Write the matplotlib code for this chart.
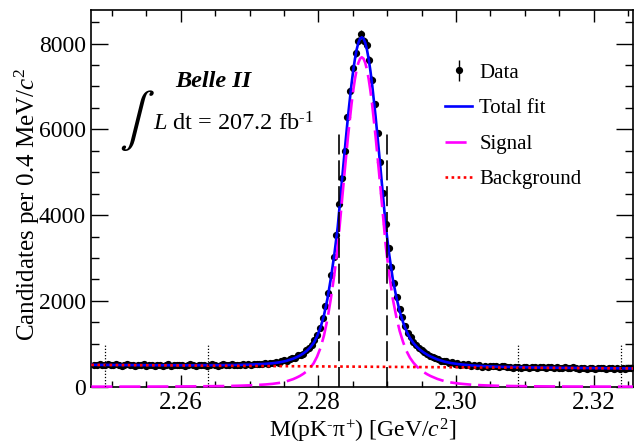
import matplotlib
matplotlib.use("Agg")
import matplotlib.pyplot as plt
import numpy as np
from matplotlib.ticker import MultipleLocator, FixedLocator, FixedFormatter

plt.rcParams['font.family'] = ['Liberation Serif', 'DejaVu Serif']
plt.rcParams['mathtext.fontset'] = 'custom'
plt.rcParams['mathtext.rm'] = 'Liberation Serif'
plt.rcParams['mathtext.it'] = 'Liberation Serif:italic'
plt.rcParams['mathtext.bf'] = 'Liberation Serif:bold'

# ---------------- data ----------------
bin_width = 0.0004          # GeV
first_bin_center = 2.2474   # GeV
data_counts = [
    515, 502, 521, 498, 511, 526, 509, 495, 518, 504,
    490, 512, 520, 497, 508, 485, 514, 501, 523, 494,
    506, 516, 488, 510, 499, 481, 507, 519, 492, 503,
    514, 496, 509, 487, 500, 521, 505, 493, 511, 498,
    517, 494, 508, 526, 503, 490, 512, 520, 497, 509,
    528, 495, 514, 503, 522, 511, 532, 497, 519, 530,
    537, 518, 545, 529, 556, 541, 572, 552, 590, 611,
    598, 640, 668, 661, 731, 749, 766, 852, 901, 975,
    1082, 1208, 1374, 1590, 1882, 2191, 2605, 3030, 3540, 4263,
    4868, 5504, 6279, 6899, 7426, 7775, 8063, 8230, 8063, 7960,
    7620, 7160, 6580, 5910, 5230, 4510, 3800, 3230, 2790, 2410,
    2095, 1820, 1615, 1420, 1262, 1148, 1041, 982, 901, 860,
    812, 770, 705, 700, 671, 651, 598, 604, 590, 548,
    566, 525, 544, 509, 531, 497, 518, 483, 505, 476,
    497, 470, 490, 462, 484, 479,
    478, 452, 471, 483, 455, 468, 447, 470, 462, 441,
    466, 459, 438, 462, 451, 433, 458, 452, 437, 463,
    449, 429, 455, 446, 432, 451, 443, 427, 449, 440,
    422, 447, 438, 424, 446, 433, 419, 441, 429, 445,
    418, 436, 427, 411, 440, 423, 434, 413, 431, 438,
]

# fit curves, tabulated versus offset from the fitted peak (MeV)
peak_mass = 2.2863
fit_offset_mev = [
    -39.3, -30, -25, -20, -18, -16, -14, -13, -12, -11,
    -10, -9.5, -9, -8.5, -8, -7.5, -7, -6.5, -6, -5.5,
    -5, -4.5, -4, -3.5, -3, -2.5, -2, -1.5, -1.25, -1,
    -0.75, -0.5, -0.25, 0,
    0.25, 0.5, 0.75, 1, 1.25, 1.5, 2, 2.5, 3, 3.5,
    4, 4.5, 5, 5.5, 6, 6.5, 7, 7.5, 8, 8.5,
    9, 9.5, 10, 11, 12, 13, 14, 16, 18, 20,
    25, 30, 39.4,
]
signal_fit = [
    1, 3, 7, 15, 22, 33, 52, 66, 88, 122,
    175, 210, 250, 300, 360, 440, 545, 700, 905, 1190,
    1570, 2050, 2600, 3250, 4130, 5000, 5840, 6580, 6900, 7170,
    7390, 7550, 7647, 7680,
    7647, 7550, 7390, 7170, 6900, 6580, 5840, 5000, 4130, 3250,
    2600, 2050, 1640, 1300, 1040, 830, 675, 560, 470, 400,
    340, 290, 248, 180, 130, 97, 75, 45, 30, 20,
    9, 4, 1,
]
total_fit = [
    509, 501, 500, 503, 507, 516, 533, 546, 567, 600,
    652, 686, 726, 775, 835, 914, 1019, 1173, 1378, 1662,
    2042, 2521, 3071, 3720, 4600, 5469, 6309, 7048, 7368, 7637,
    7857, 8017, 8114, 8146,
    8113, 8016, 7856, 7635, 7365, 7045, 6304, 5464, 4593, 3713,
    3062, 2512, 2101, 1761, 1500, 1290, 1134, 1019, 928, 857,
    797, 746, 704, 635, 584, 550, 527, 495, 477, 465,
    449, 439, 426,
]
background_mass = [2.2470, 2.3257]
background_fit = [508, 425]

signal_window = [2.2830, 2.2900]
sideband_edges = [2.2490, 2.2640, 2.3090, 2.3240]

x_ticks = [2.26, 2.28, 2.30, 2.32]
x_tick_labels = ['2.26', '2.28', '2.30', '2.32']
y_ticks = [0, 2000, 4000, 6000, 8000]
y_tick_labels = ['0', '2000', '4000', '6000', '8000']

# ---------------- plot ----------------
centers = first_bin_center + bin_width * np.arange(len(data_counts))
counts = np.array(data_counts, dtype=float)
errs = np.sqrt(counts)
fit_mass = peak_mass + np.array(fit_offset_mev) / 1000.0

fig = plt.figure(figsize=(6.4, 4.47), dpi=100)
ax = fig.add_axes([0.1427, 0.1349, 0.989 - 0.1427, 0.977 - 0.1349])

h_data = ax.errorbar(centers, counts, yerr=errs, fmt='o', color='black', ms=4.2,
                     elinewidth=1.0, capsize=0, zorder=2, label='Data')
h_tot, = ax.plot(fit_mass, total_fit, color='#0000ff', lw=1.9, zorder=3,
                 label='Total fit')
h_sig, = ax.plot(fit_mass, signal_fit, color='#ff00ff', lw=1.9, dashes=(8, 2.6),
                 zorder=4, clip_on=False, label='Signal')
h_bkg, = ax.plot(background_mass, background_fit, color='#ff0000', lw=1.9,
                 linestyle=(0, (1, 1.3)), zorder=5, label='Background')

ax.vlines(signal_window, 0, 5950, colors='black', linestyles=(0, (12, 3.5)),
          lw=1.2, zorder=6)
ax.vlines(sideband_edges, 0, 1000, colors='black', linestyles=(0, (1, 1.5)),
          lw=0.9, zorder=6)

ax.set_xlim(2.2470, 2.3257)
ax.set_ylim(0, 8775)

ax.xaxis.set_major_locator(FixedLocator(x_ticks))
ax.xaxis.set_major_formatter(FixedFormatter(x_tick_labels))
ax.xaxis.set_minor_locator(MultipleLocator(0.005))
ax.yaxis.set_major_locator(FixedLocator(y_ticks))
ax.yaxis.set_major_formatter(FixedFormatter(y_tick_labels))
ax.yaxis.set_minor_locator(MultipleLocator(500))

ax.tick_params(which='both', direction='in', top=True, right=True, width=1.0)
ax.tick_params(axis='x', which='major', length=8.4, labelsize=18, pad=4)
ax.tick_params(axis='x', which='minor', length=4.3)
ax.tick_params(axis='y', which='major', length=12.2, labelsize=17, pad=4)
ax.tick_params(axis='y', which='minor', length=6.1)
for sp in ax.spines.values():
    sp.set_linewidth(1.2)

ax.set_xlabel(r'M(pK$^{\text{-}}$π$^{+}$) [GeV/$c^{2}$]', fontsize=17, labelpad=2)
ax.set_ylabel(r'Candidates per 0.4 MeV/$c^{2}$', fontsize=18)
ax.yaxis.set_label_coords(-0.091, 0.485)

ax.text(0.226, 0.810, 'Belle II', transform=ax.transAxes, ha='center',
        va='center', fontsize=17.5, fontweight='bold', fontstyle='italic')
ax.text(0.0746, 0.706, '∫', transform=ax.transAxes, ha='center', va='center',
        fontsize=38, family='STIXGeneral')
ax.text(0.1145, 0.680, r'$L$ dt = 207.2 fb$^{\text{-1}}$', transform=ax.transAxes,
        ha='left', va='baseline', fontsize=17.5)

ax.legend([h_data, h_tot, h_sig, h_bkg], ['Data', 'Total fit', 'Signal', 'Background'],
          loc='upper left', bbox_to_anchor=(0.653, 0.860), frameon=False,
          fontsize=15, handlelength=1.3, handletextpad=0.35, labelspacing=0.77,
          borderaxespad=0, borderpad=0)

fig.savefig('out.png', dpi=100)
